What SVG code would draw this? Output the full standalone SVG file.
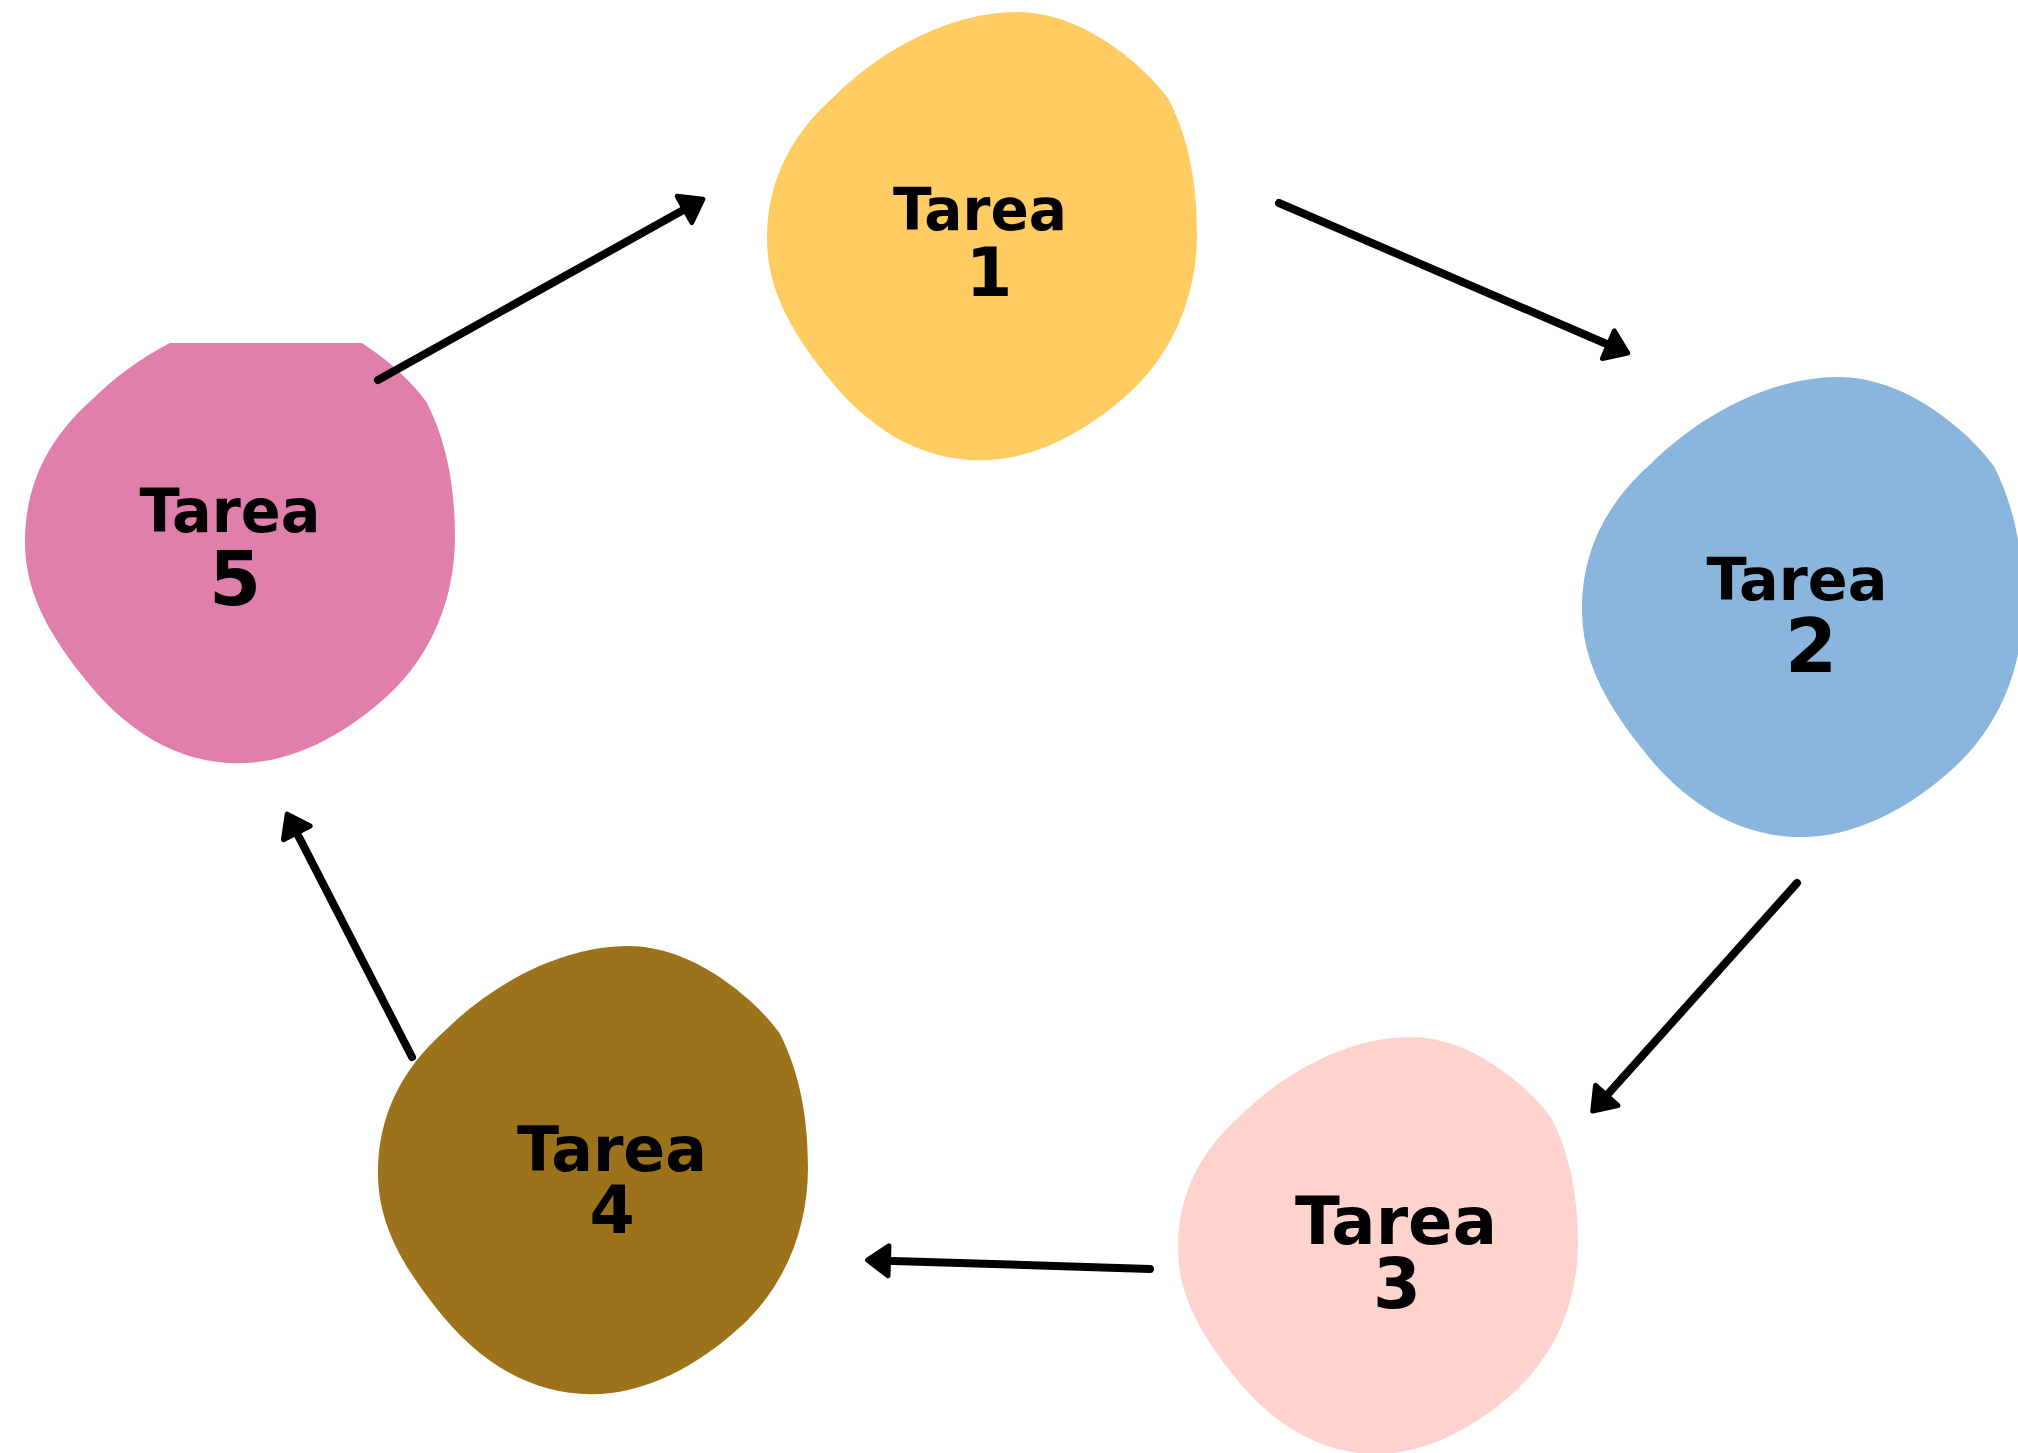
<svg xmlns="http://www.w3.org/2000/svg" xmlns:xlink="http://www.w3.org/1999/xlink" width="2018" height="1453" viewBox="0 0 2018 1453" shape-rendering="geometricPrecision">
<style>
.lbl{font-family:"DejaVu Sans","Liberation Sans",sans-serif;font-weight:bold;fill:#000;text-anchor:middle}
.conn{stroke:#000;stroke-width:8;stroke-linecap:round;fill:none;marker-end:url(#head)}
</style>
<defs>
<path id="blob" d="M 750 0 C 845 0, 940 37, 1020 90 C 1095 140, 1160 200, 1205 262 C 1260 370, 1290 500, 1290 665 C 1290 850, 1220 1020, 1090 1140 C 960 1260, 800 1345, 640 1345 C 460 1345, 300 1250, 170 1080 C 60 940, 0 820, 0 680 C 0 510, 70 370, 200 255 C 340 115, 550 0, 750 0 Z"/>
<clipPath id="clip5" clipPathUnits="userSpaceOnUse"><rect x="0" y="343" width="600" height="600"/></clipPath>
<marker id="head" markerUnits="userSpaceOnUse" viewBox="-20 -20 40 40" markerWidth="40" markerHeight="40" refX="0" refY="0" orient="auto" overflow="visible">
<path d="M 9 0 L -12 -15 L -12 15 Z" fill="#000" stroke="#000" stroke-width="5" stroke-linejoin="round"/>
</marker>
</defs>
<rect width="2018" height="1453" fill="#fff"/>
<g id="node1">
<use xlink:href="#blob" href="#blob" transform="translate(767,12) scale(0.3333)" fill="#FFCC61"/>
<text class="lbl"><tspan x="980" y="230" font-size="58" textLength="174" lengthAdjust="spacingAndGlyphs">Tarea</tspan><tspan x="989" y="296" font-size="67">1</tspan></text>
</g>
<g id="node2">
<use xlink:href="#blob" href="#blob" transform="translate(1582,377) scale(0.342)" fill="#8AB6DD"/>
<text class="lbl"><tspan x="1797" y="600" font-size="59" textLength="181" lengthAdjust="spacingAndGlyphs">Tarea</tspan><tspan x="1811" y="672" font-size="75">2</tspan></text>
</g>
<g id="node3">
<use xlink:href="#blob" href="#blob" transform="translate(1178,1037) scale(0.31)" fill="#FFD3CD"/>
<text class="lbl"><tspan x="1396" y="1244" font-size="66" textLength="202" lengthAdjust="spacingAndGlyphs">Tarea</tspan><tspan x="1397" y="1308" font-size="69">3</tspan></text>
</g>
<g id="node4">
<use xlink:href="#blob" href="#blob" transform="translate(378,946) scale(0.3333)" fill="#9C721A"/>
<text class="lbl"><tspan x="612" y="1171" font-size="63" textLength="190" lengthAdjust="spacingAndGlyphs">Tarea</tspan><tspan x="612" y="1233" font-size="65">4</tspan></text>
</g>
<g id="node5">
<g clip-path="url(#clip5)">
<use xlink:href="#blob" href="#blob" transform="translate(25,315) scale(0.3333)" fill="#E07EAC"/>
</g>
<text class="lbl"><tspan x="230" y="532" font-size="60" textLength="181" lengthAdjust="spacingAndGlyphs">Tarea</tspan><tspan x="235" y="605" font-size="75">5</tspan></text>
</g>
<g id="connectors">
<line class="conn" x1="378" y1="380" x2="695" y2="203.6"/>
<line class="conn" x1="1279" y1="203" x2="1619.4" y2="349.5"/>
<line class="conn" x1="1797" y1="883" x2="1598.7" y2="1104.4"/>
<line class="conn" x1="1150" y1="1269" x2="876.5" y2="1260.4"/>
<line class="conn" x1="412" y1="1057" x2="291.3" y2="822.2"/>
</g>
</svg>
